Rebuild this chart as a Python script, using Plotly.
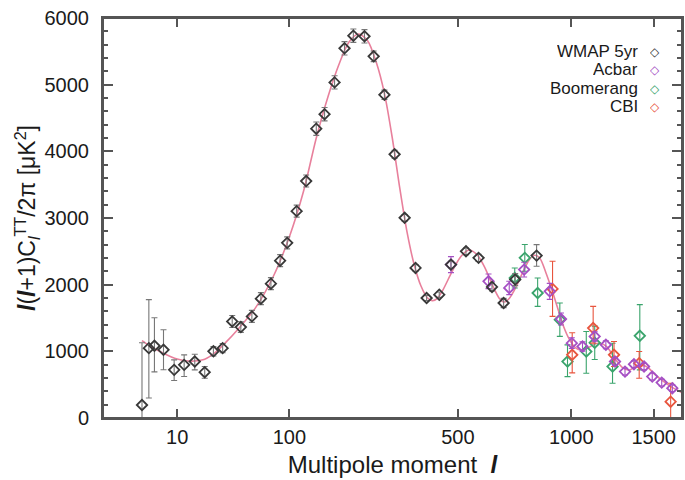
import plotly.graph_objects as go

# ---------------- data ----------------
# WMAP 5yr binned band powers
wmap_l = [2, 3, 4, 6, 9, 12.5, 17, 22, 27, 33, 40, 47, 57, 66, 77, 88, 97, 110, 124, 140,
          154, 172, 191, 209, 233, 254, 280, 306, 333, 364, 397, 437, 476, 529, 576, 629,
          677, 727, 825]
wmap_d = [195, 1048, 1083, 1023, 722, 797, 847, 687, 1000, 1048, 1448, 1364, 1524, 1790,
          2015, 2360, 2627, 3103, 3554, 4340, 4557, 5034, 5545, 5735, 5726, 5425, 4848,
          3956, 3003, 2251, 1800, 1850, 2301, 2501, 2402, 1966, 1725, 2076, 2436]
wmap_up = [933, 727, 421, 300, 150, 150, 110, 85, 70, 70, 90, 80, 90, 90, 90, 90, 90, 90,
           90, 100, 100, 100, 100, 100, 100, 80, 70, 60, 50, 50, 40, 40, 50, 50, 55, 60,
           70, 90, 165]
wmap_dn = [195, 748, 391, 300, 160, 175, 125, 90, 70, 70, 90, 80, 90, 90, 90, 90, 90, 90,
           90, 100, 100, 100, 100, 100, 100, 80, 70, 60, 50, 50, 40, 40, 50, 50, 55, 60,
           70, 90, 160]

# ACBAR
acbar_l = [476, 615, 701, 767, 889, 946, 1003, 1061, 1130, 1195, 1250, 1312, 1369, 1435,
           1490, 1555, 1630]
acbar_d = [2301, 2050, 1951, 2226, 1900, 1484, 1123, 1073, 1223, 1098, 847, 696, 807, 772,
           621, 531, 447]
acbar_e = [120, 110, 100, 110, 120, 90, 80, 70, 70, 60, 60, 50, 50, 50, 50, 50, 50]

# Boomerang
boom_l = [725, 770, 830, 940, 980, 1082, 1130, 1235, 1407]
boom_d = [2100, 2402, 1875, 1475, 847, 997, 1128, 772, 1233]
boom_up = [150, 200, 226, 250, 250, 300, 250, 350, 467]
boom_dn = [150, 200, 201, 250, 226, 325, 250, 250, 511]

# CBI
cbi_l = [903, 1005, 1121, 1244, 1403, 1618]
cbi_d = [1936, 948, 1349, 948, 823, 245]
cbi_up = [415, 330, 325, 200, 174, 277]
cbi_dn = [412, 271, 226, 176, 226, 245]

# best-fit LCDM model curve
model_l = [2, 3, 4, 6, 8, 10, 13, 17, 22, 28, 35, 45, 60, 80, 100, 120, 140, 160, 180, 200,
           220, 240, 260, 280, 300, 320, 340, 360, 380, 400, 415, 430, 450, 480, 510, 540,
           570, 600, 630, 660, 680, 700, 730, 760, 790, 815, 840, 870, 900, 930, 960, 990,
           1020, 1050, 1090, 1130, 1160, 1200, 1250, 1300, 1340, 1380, 1420, 1460, 1500,
           1560, 1620, 1700]
model_d = [1160, 1090, 1040, 970, 920, 885, 860, 855, 880, 980, 1130, 1340, 1640, 2130,
           2720, 3400, 4200, 4820, 5300, 5640, 5760, 5660, 5340, 4870, 4200, 3440, 2780,
           2300, 1980, 1800, 1760, 1790, 1930, 2200, 2420, 2520, 2450, 2260, 2000, 1790,
           1740, 1790, 1960, 2180, 2370, 2440, 2400, 2180, 1920, 1640, 1370, 1180, 1060,
           1020, 1050, 1110, 1120, 1070, 890, 750, 720, 770, 790, 760, 670, 560, 470, 380]

tick_l = [10, 100, 500, 1000, 1500]
tick_text = ["10", "100", "500", "1000", "1500"]

legend_names = ["WMAP 5yr", "Acbar", "Boomerang", "CBI"]

# ---------------- styling ----------------
P = 0.4  # axis is linear in l^0.4
def sx(vals):
    return [v ** P for v in vals]

FONT = "Liberation Sans, Arial, Helvetica, sans-serif"
C_WMAP = "#383838"
C_ACBAR = "#a54fc4"
C_BOOM = "#3aa46c"
C_CBI = "#e8553e"
C_MODEL = "#e8809c"
C_AXIS = "#555555"

fig = go.Figure()

fig.add_trace(go.Scatter(x=sx(model_l), y=model_d, mode="lines",
                         line=dict(color=C_MODEL, width=1.6, shape="spline", smoothing=0.8),
                         hoverinfo="skip", showlegend=False))

def add_points(lv, dv, up, dn, color, ecolor, name):
    fig.add_trace(go.Scatter(
        x=sx(lv), y=dv, mode="markers", name=name, showlegend=False,
        marker=dict(symbol="diamond-open", size=8, color=color, line=dict(width=1.8, color=color)),
        error_y=dict(type="data", symmetric=False, array=up, arrayminus=dn,
                     color=ecolor, thickness=1.1, width=3)))

add_points(boom_l, boom_d, boom_up, boom_dn, C_BOOM, C_BOOM, "Boomerang")
add_points(cbi_l, cbi_d, cbi_up, cbi_dn, C_CBI, C_CBI, "CBI")
add_points(acbar_l, acbar_d, acbar_e, acbar_e, C_ACBAR, C_ACBAR, "Acbar")
add_points(wmap_l, wmap_d, wmap_up, wmap_dn, C_WMAP, "#777777", "WMAP 5yr")

# legend drawn as text with the symbol at the right (as in the original)
leg_colors = [C_WMAP, C_ACBAR, C_BOOM, C_CBI]
leg_y = [0.916, 0.8705, 0.825, 0.7795]
for name, col, yy in zip(legend_names, leg_colors, leg_y):
    fig.add_annotation(x=0.928, y=yy, xref="paper", yref="paper", text=name,
                       showarrow=False, xanchor="right", yanchor="middle", height=17,
                       font=dict(family=FONT, size=17, color="#1a1a1a"))
    fig.add_annotation(x=0.953, y=yy, xref="paper", yref="paper", text="◇",
                       showarrow=False, xanchor="center", yanchor="middle", height=17,
                       font=dict(family="DejaVu Sans", size=12, color=col))

# plot frame
fig.add_shape(type="rect", xref="paper", yref="paper", x0=0, y0=0, x1=1, y1=1,
              line=dict(color=C_AXIS, width=2), layer="above")

axis_common = dict(showline=True, linecolor=C_AXIS, linewidth=2, mirror="ticks",
                   ticks="inside", tickcolor=C_AXIS, tickwidth=1.5,
                   showgrid=False, zeroline=False, automargin=False,
                   tickfont=dict(family=FONT, size=20, color="#1a1a1a"))

fig.update_xaxes(range=[0, 1700 ** P], tickmode="array", tickvals=sx(tick_l),
                 ticktext=tick_text, ticklen=9,
                 title=dict(text="Multipole moment  <b><i>l</i></b>",
                            font=dict(family=FONT, size=24, color="#1a1a1a"), standoff=9),
                 **axis_common)
fig.update_yaxes(range=[0, 6000], dtick=1000, ticklen=10, ticklabelstandoff=8,
                 minor=dict(dtick=200, ticklen=5, ticks="inside", tickcolor=C_AXIS, tickwidth=1.5),
                 title=dict(text="<b><i>l</i></b>(<b><i>l</i></b>+1)C<sub><i>l</i></sub><sup>TT</sup>/2π [μK<sup>2</sup>]",
                            font=dict(family=FONT, size=23, color="#1a1a1a"), standoff=2),
                 **axis_common)

fig.update_layout(width=685, height=480, margin=dict(l=103, r=3, t=18, b=62, autoexpand=False),
                  paper_bgcolor="white", plot_bgcolor="white", showlegend=False,
                  font=dict(family=FONT))

# remove the default page margin so the figure sits at the window's top-left corner
fig.write_html("out.html", config={"displayModeBar": False},
               post_script="document.body.style.margin='0';document.body.style.overflow='hidden';")
